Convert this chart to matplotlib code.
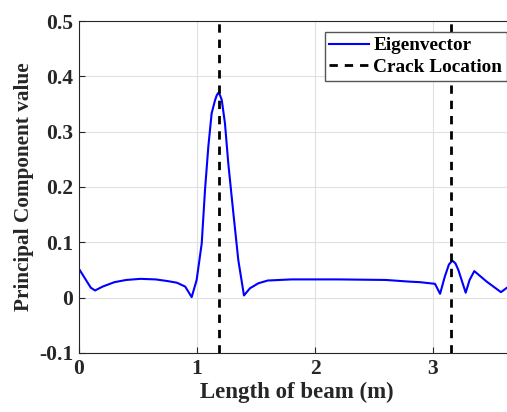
import numpy as np
import matplotlib.pyplot as plt

# first principal component along the beam
beam_x = [0.0, 0.05, 0.1, 0.136, 0.2, 0.3, 0.4, 0.52, 0.65, 0.75, 0.83, 0.9,
          0.955, 0.997, 1.04, 1.068, 1.096, 1.124, 1.153, 1.168, 1.18, 1.195,
          1.21, 1.237, 1.265, 1.308, 1.35, 1.398, 1.449, 1.52, 1.6, 1.8, 2.2,
          2.6, 2.8, 2.89, 3.017, 3.06, 3.10, 3.135, 3.164, 3.19, 3.215, 3.277,
          3.31, 3.35, 3.455, 3.576, 3.627]
eigvec = [0.052, 0.035, 0.018, 0.013, 0.020, 0.028, 0.032, 0.034, 0.033,
          0.030, 0.027, 0.020, 0.001, 0.032, 0.098, 0.195, 0.273, 0.333,
          0.357, 0.366, 0.370, 0.366, 0.357, 0.315, 0.243, 0.153, 0.068,
          0.004, 0.017, 0.026, 0.031, 0.033, 0.033, 0.032, 0.029, 0.028,
          0.025, 0.007, 0.038, 0.060, 0.067, 0.062, 0.050, 0.009, 0.032,
          0.048, 0.029, 0.010, 0.018]
crack_x = [1.184, 3.15]

xticks = [0, 1, 2, 3]
yticks = [-0.1, 0, 0.1, 0.2, 0.3, 0.4, 0.5]
ytick_labels = ["-0.1", "0", "0.1", "0.2", "0.3", "0.4", "0.5"]

plt.rcParams['font.family'] = ['Liberation Serif', 'DejaVu Serif']
plt.rcParams['font.weight'] = 'bold'

fig = plt.figure(figsize=(5.07, 4.12), dpi=100)
ax = fig.add_axes([79/507, 59/412, 436.6/507, 332/412])

ax.plot(beam_x, eigvec, color='#0000ff', lw=1.5, label='Eigenvector')
for i, cx in enumerate(crack_x):
    ax.axvline(cx, color='black', lw=2, linestyle=(0, (3, 2.5)),
               label='Crack Location' if i == 0 else None)

ax.set_xlim(0, 3.7)
ax.set_ylim(-0.1, 0.5)
ax.set_xticks(xticks)
ax.set_xticklabels([str(t) for t in xticks])
ax.set_yticks(yticks)
ax.set_yticklabels(ytick_labels)
ax.tick_params(direction='in', length=4, width=0.8, labelsize=15.5,
               colors='#262626', pad=4)
ax.grid(True, color='#e0e0e0', lw=0.8)
ax.set_axisbelow(True)
for s in ax.spines.values():
    s.set_color('#262626')
    s.set_linewidth(0.8)

ax.set_xlabel('Length of beam (m)', fontsize=16.5, fontweight='bold',
              color='#262626', labelpad=2)
ax.set_ylabel('Principal Component value', fontsize=15.3, fontweight='bold',
              color='#262626', labelpad=4)

leg = ax.legend(loc='upper right', bbox_to_anchor=(428/436.6, 1 - 11/332),
                fontsize=13.9, fancybox=False, framealpha=1, handlelength=2.07,
                handletextpad=0.2, borderpad=0.25, labelspacing=0.22,
                borderaxespad=0)
leg.get_frame().set_edgecolor('#555555')
leg.get_frame().set_linewidth(1.0)

fig.savefig('out.png', dpi=100)
